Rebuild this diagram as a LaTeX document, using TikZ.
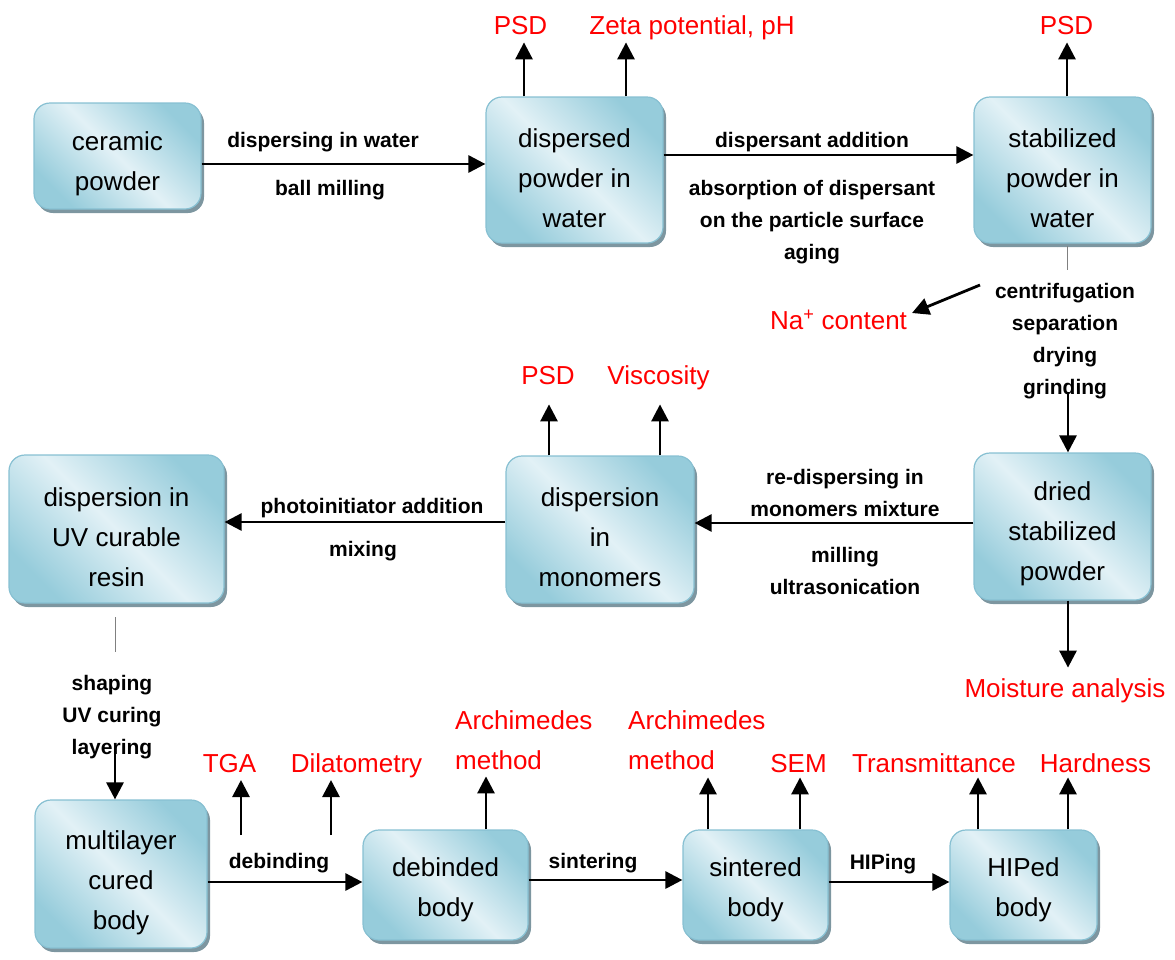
\documentclass[tikz,border=0pt]{standalone}
\usepackage{fontspec}
\setmainfont{Liberation Sans}
\usetikzlibrary{arrows.meta,shadows,calc}
\definecolor{boxdark}{RGB}{150,204,219}
\definecolor{boxlight}{RGB}{226,241,246}
\definecolor{boxline}{RGB}{135,192,210}
\definecolor{shadowc}{RGB}{125,150,160}
\definecolor{lblred}{RGB}{255,0,0}
\begin{document}
\begin{tikzpicture}[x=1pt,y=-1pt,
  procbox/.style={draw=boxline, line width=1.2pt, rounded corners=16pt,
    top color=boxdark, bottom color=boxdark, middle color=boxlight, shading angle=-45,
    drop shadow={shadow xshift=3pt,shadow yshift=-4pt,fill=shadowc,opacity=1},
    inner sep=0pt},
  btxt/.style={align=center, font=\fontsize{26}{40}\selectfont, inner sep=0pt},
  meas/.style={text=lblred, font=\fontsize{26}{40}\selectfont, inner sep=0pt,
    text height=18.6pt, text depth=0pt},
  measml/.style={text=lblred, font=\fontsize{26}{40}\selectfont, inner sep=0pt,
    align=left, anchor=base west},
  lab/.style={font=\fontsize{21}{32}\selectfont\bfseries, align=center, inner sep=0pt},
  arr/.style={line width=2.8pt, -{Triangle[length=17pt,width=17pt]}},
  thinln/.style={draw=gray, line width=0.8pt}
]
\useasboundingbox (0,0) rectangle (1175,959);

% ---------- boxes ----------
\node[procbox, minimum width=167pt, minimum height=106pt] (cer) at (117.5,156) {};
\node[btxt] (cer-t) at ([yshift=-7.5pt]cer.center) {ceramic\\powder};

\node[procbox, minimum width=177pt, minimum height=146pt] (disp) at (574.5,170) {};
\node[btxt] (disp-t) at ([yshift=-8pt]disp.center) {dispersed\\powder in\\water};

\node[procbox, minimum width=177pt, minimum height=146pt] (stab) at (1062.5,170) {};
\node[btxt] (stab-t) at ([yshift=-8pt]stab.center) {stabilized\\powder in\\water};

\node[procbox, minimum width=177pt, minimum height=147pt] (dried) at (1062.5,526.5) {};
\node[btxt] (dried-t) at ([yshift=-7.5pt]dried.center) {dried\\stabilized\\powder};

\node[procbox, minimum width=188pt, minimum height=147pt] (mono) at (600,529.5) {};
\node[btxt] (mono-t) at ([yshift=-7.5pt]mono.center) {dispersion\\in\\monomers};

\node[procbox, minimum width=215pt, minimum height=148pt] (uv) at (116.5,529) {};
\node[btxt] (uv-t) at ([yshift=-8pt]uv.center) {dispersion in\\UV curable\\resin};

\node[procbox, minimum width=172pt, minimum height=148pt] (multi) at (121,874) {};
\node[btxt] (multi-t) at ([yshift=-9pt]multi.center) {multilayer\\cured\\body};

\node[procbox, minimum width=165pt, minimum height=110pt] (deb) at (445.5,885) {};
\node[btxt] (deb-t) at ([yshift=-5pt]deb.center) {debinded\\body};

\node[procbox, minimum width=145pt, minimum height=110pt] (sint) at (755.5,885) {};
\node[btxt] (sint-t) at ([yshift=-5pt]sint.center) {sintered\\body};

\node[procbox, minimum width=147pt, minimum height=110pt] (hip) at (1023.5,885) {};
\node[btxt] (hip-t) at ([yshift=-5pt]hip.center) {HIPed\\body};

% ---------- process arrows ----------
\draw[arr] ([yshift=-8pt]cer.east) -- ([yshift=6pt]disp.west);
\draw[arr] ([yshift=15pt]disp.east) -- ([yshift=15pt]stab.west);
\draw[arr] ([yshift=3.5pt]dried.west) -- ([yshift=6.5pt]mono.east);
\draw[arr] ([yshift=7.5pt]mono.west) -- ([yshift=7pt]uv.east);
\draw[arr] ([yshift=-8pt]multi.east) -- ([yshift=3pt]deb.west);
\draw[arr] ([yshift=5pt]deb.east) -- ([yshift=5pt]sint.west);
\draw[arr] ([yshift=3pt]sint.east) -- ([yshift=3pt]hip.west);

% stabilized -> dried
\coordinate (stab-l1) at (1067,246);
\coordinate (stab-l2) at (1067,270);
\draw[thinln] (stab-l1) -- (stab-l2);
\coordinate (grind) at (1068,392);
\draw[arr] (grind) -- (dried.north -| grind);
% Na+ arrow
\coordinate (na-s) at (980,285);
\coordinate (na-e) at (912,313);
\draw[arr] (na-s) -- (na-e);
% dried -> moisture
\draw[arr] ([xshift=5.5pt]dried.south) -- ++(0,67);
% uv -> multilayer
\coordinate (uv-l1) at (115,617);
\coordinate (uv-l2) at (115,652);
\draw[thinln] (uv-l1) -- (uv-l2);
\coordinate (lay) at (115,752);
\draw[arr] (lay) -- (lay |- multi.north);

% ---------- measurement arrows ----------
\draw[arr] ([xshift=-50.5pt]disp.north) -- ++(0,-54);
\draw[arr] ([xshift=51.5pt]disp.north) -- ++(0,-54);
\draw[arr] ([xshift=4.5pt]stab.north) -- ++(0,-54);
\draw[arr] ([xshift=-51pt]mono.north) -- ++(0,-51);
\draw[arr] ([xshift=60pt]mono.north) -- ++(0,-51);
\draw[arr] ([xshift=40.5pt]deb.north) -- ++(0,-53);
\draw[arr] ([xshift=-47.5pt]sint.north) -- ++(0,-52);
\draw[arr] ([xshift=44.5pt]sint.north) -- ++(0,-52);
\draw[arr] ([xshift=-45.5pt]hip.north) -- ++(0,-52);
\draw[arr] ([xshift=44.5pt]hip.north) -- ++(0,-52);
\coordinate (tga-s) at (241,835);
\coordinate (tga-e) at (241,780);
\draw[arr] (tga-s) -- (tga-e);
\coordinate (dil-s) at (331,835);
\coordinate (dil-e) at (331,780);
\draw[arr] (dil-s) -- (dil-e);

% ---------- process labels ----------
\node[lab] (l-disp) at (323,142) {dispersing in water};
\node[lab] (l-ball) at (330,190) {ball milling};
\node[lab] (l-dadd) at (812,142) {dispersant addition};
\node[lab] (l-abs) at (812,222) {absorption of dispersant\\on the particle surface\\aging};
\node[lab] (l-cent) at (1065,341) {centrifugation\\separation\\drying\\grinding};
\node[lab] (l-redisp) at (845,493) {re-dispersing in\\monomers mixture};
\node[lab] (l-mill) at (845,571) {milling\\ultrasonication};
\node[lab] (l-photo) at (372,508) {photoinitiator addition};
\node[lab] (l-mix) at (363,551) {mixing};
\node[lab] (l-shape) at (112,717) {shaping\\UV curing\\layering};
\node[lab] (l-debi) at (279,863) {debinding};
\node[lab] (l-sint) at (593,863) {sintering};
\node[lab] (l-hip) at (883,864) {HIPing};

% ---------- measurement labels ----------
\node[meas] (m-psd1) at (520.5,25) {PSD};
\node[meas] (m-zeta) at (692,25) {Zeta potential, pH};
\node[meas] (m-psd2) at (1066.5,25) {PSD};
\node[meas] (m-na) at (838.5,320) {Na\textsuperscript{+} content};
\node[meas] (m-psd3) at (548,375) {PSD};
\node[meas] (m-visc) at (658.5,375) {Viscosity};
\node[meas] (m-moist) at (1065,688) {Moisture analysis};
\node[meas] (m-tga) at (229.5,763) {TGA};
\node[meas] (m-dil) at (356.5,763) {Dilatometry};
\node[measml] (m-arch1) at (455,769) {Archimedes\\method};
\node[measml] (m-arch2) at (628,769) {Archimedes\\method};
\node[meas] (m-sem) at (798.5,763) {SEM};
\node[meas] (m-trans) at (934,763) {Transmittance};
\node[meas] (m-hard) at (1095.5,763) {Hardness};
\end{tikzpicture}
\end{document}
